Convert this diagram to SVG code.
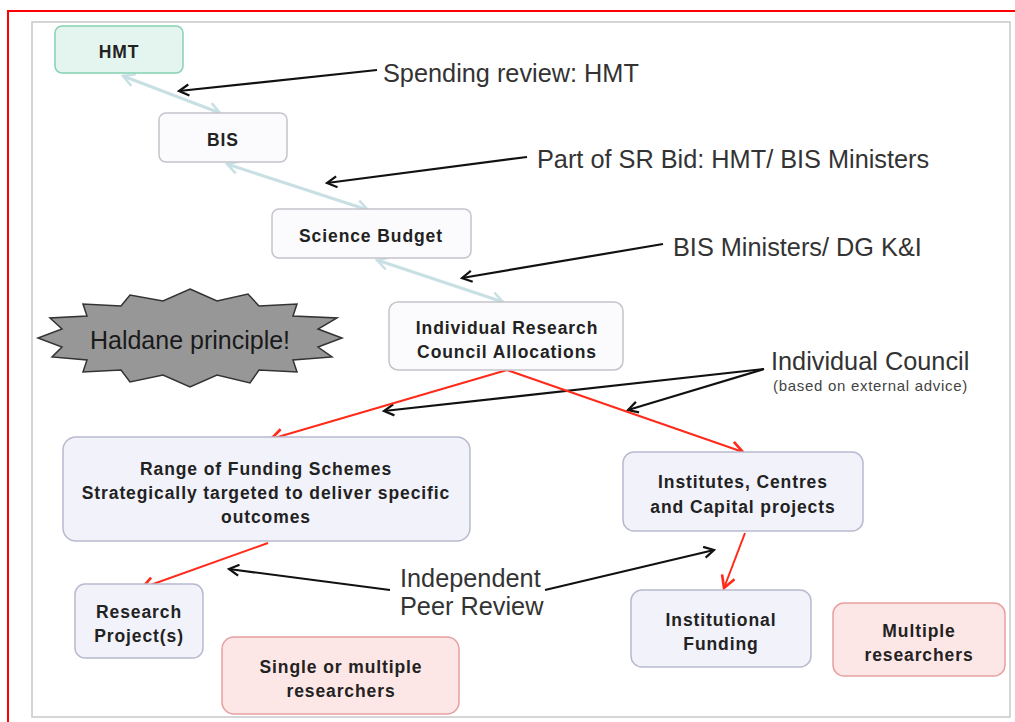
<svg xmlns="http://www.w3.org/2000/svg" width="1015" height="722" viewBox="0 0 1015 722">
<defs>
<style>
.frame{fill:none;stroke:#ff0000;stroke-width:2}
.panel{fill:#ffffff;stroke:#c8c8c8;stroke-width:1.5}
.box{stroke-width:1.5}
.lav{fill:#f2f2fb;stroke:#b9b9cf}
.wht{fill:#fbfbfd;stroke:#c4c4cc}
.grn{fill:#e3f5ee;stroke:#86d2b2}
.pnk{fill:#fde6e6;stroke:#e7a0a0}
.bt{font-family:"Liberation Sans",Arial,sans-serif;font-weight:bold;font-size:17.5px;letter-spacing:0.9px;fill:#222;text-anchor:middle}
.lbl{font-family:"Liberation Sans",Arial,sans-serif;font-size:25.3px;fill:#333}
.sm{font-family:"Liberation Sans",Arial,sans-serif;font-size:15px;letter-spacing:0.7px;fill:#444}
.blue{fill:none;stroke:#c8dfe3;stroke-width:3;marker-start:url(#mb);marker-end:url(#mb)}
.blk{fill:none;stroke:#111;stroke-width:2.2;marker-end:url(#mk)}
.red{fill:none;stroke:#ff2a1a;stroke-width:2;marker-end:url(#mr)}
</style>
<marker id="mb" viewBox="0 0 12 12" refX="10" refY="6" markerWidth="5" markerHeight="5" orient="auto-start-reverse" markerUnits="strokeWidth"><path d="M1,1 L10,6 L1,11" fill="none" stroke="#c8dfe3" stroke-width="2"/></marker>
<marker id="mk" viewBox="0 0 12 12" refX="10" refY="6" markerWidth="6" markerHeight="6" orient="auto" markerUnits="strokeWidth"><path d="M1,1 L10,6 L1,11" fill="none" stroke="#111" stroke-width="2"/></marker>
<marker id="mr" viewBox="0 0 12 12" refX="10" refY="6" markerWidth="8" markerHeight="8" orient="auto" markerUnits="strokeWidth"><path d="M1,1 L10,6 L1,11" fill="none" stroke="#ff2a1a" stroke-width="2"/></marker>
</defs>
<rect width="1015" height="722" fill="#ffffff"/>
<rect class="frame" x="8" y="11" width="1020" height="730"/>
<rect class="panel" x="32" y="22" width="978" height="695"/>

<g id="connectors">
<line class="blue" x1="123" y1="76" x2="220" y2="113"/>
<line class="blue" x1="227" y1="164" x2="368" y2="210"/>
<line class="blue" x1="377" y1="260" x2="503" y2="302"/>
<line class="blk" x1="377" y1="70" x2="179" y2="91"/>
<line class="blk" x1="527" y1="157" x2="327" y2="183"/>
<line class="blk" x1="663" y1="244" x2="462" y2="278"/>
<polyline class="blk" points="764,369 384,411"/>
<polyline class="blk" points="764,369 628,410"/>
<line class="blk" x1="390" y1="590" x2="229" y2="569"/>
<line class="blk" x1="545" y1="590" x2="714" y2="550"/>
<line class="red" x1="507" y1="370" x2="271" y2="439"/>
<line class="red" x1="507" y1="370" x2="743" y2="452"/>
<line class="red" x1="268" y1="543" x2="142" y2="588"/>
<line class="red" x1="745" y1="533" x2="724" y2="588"/>
</g>

<g id="hmt"><rect class="box grn" x="55" y="26" width="128" height="47" rx="7"/><text class="bt" x="119" y="58">HMT</text></g>
<g id="bis"><rect class="box wht" x="159" y="113" width="128" height="49" rx="7"/><text class="bt" x="223" y="146">BIS</text></g>
<g id="science-budget"><rect class="box wht" x="272" y="209" width="199" height="49" rx="7"/><text class="bt" x="371" y="242">Science Budget</text></g>
<g id="irc"><rect class="box wht" x="389" y="302" width="234" height="68" rx="9"/><text class="bt" x="507" y="334">Individual Research</text><text class="bt" x="507" y="358">Council Allocations</text></g>
<g id="range"><rect class="box lav" x="63" y="437" width="407" height="104" rx="13"/><text class="bt" x="266" y="475">Range of Funding Schemes</text><text class="bt" x="266" y="499">Strategically targeted to deliver specific</text><text class="bt" x="266" y="523">outcomes</text></g>
<g id="institutes"><rect class="box lav" x="623" y="452" width="240" height="79" rx="11"/><text class="bt" x="743" y="488">Institutes, Centres</text><text class="bt" x="743" y="513">and Capital projects</text></g>
<g id="projects"><rect class="box lav" x="75" y="584" width="128" height="74" rx="10"/><text class="bt" x="139" y="618">Research</text><text class="bt" x="139" y="642">Project(s)</text></g>
<g id="single"><rect class="box pnk" x="222" y="637" width="237" height="77" rx="12"/><text class="bt" x="341" y="673">Single or multiple</text><text class="bt" x="341" y="697">researchers</text></g>
<g id="institutional"><rect class="box lav" x="631" y="590" width="180" height="77" rx="11"/><text class="bt" x="721" y="626">Institutional</text><text class="bt" x="721" y="650">Funding</text></g>
<g id="multiple"><rect class="box pnk" x="833" y="603" width="172" height="73" rx="11"/><text class="bt" x="919" y="637">Multiple</text><text class="bt" x="919" y="661">researchers</text></g>

<g id="haldane">
<polygon points="190,289 217,301 248,294 259,306 297,304 293,316 337,318 318,329 342,338 318,347 332,357 293,360 297,372 259,370 250,383 217,375 190,387 163,375 130,382 121,370 83,372 87,360 52,357 62,347 38,338 62,329 50,318 87,316 83,304 121,306 130,295 163,301" fill="#979797" stroke="#333" stroke-width="1.5"/>
<text x="190" y="349" font-family="'Liberation Sans',Arial,sans-serif" font-size="25" fill="#1a1a1a" text-anchor="middle">Haldane principle!</text>
</g>

<g id="labels">
<text class="lbl" x="383" y="82">Spending review: HMT</text>
<text class="lbl" x="537" y="168">Part of SR Bid: HMT/ BIS Ministers</text>
<text class="lbl" x="673" y="256">BIS Ministers/ DG K&amp;I</text>
<text class="lbl" x="771" y="370">Individual Council</text>
<text class="sm" x="773" y="391">(based on external advice)</text>
<text class="lbl" x="400" y="587">Independent</text>
<text class="lbl" x="400" y="615">Peer Review</text>
</g>
</svg>
